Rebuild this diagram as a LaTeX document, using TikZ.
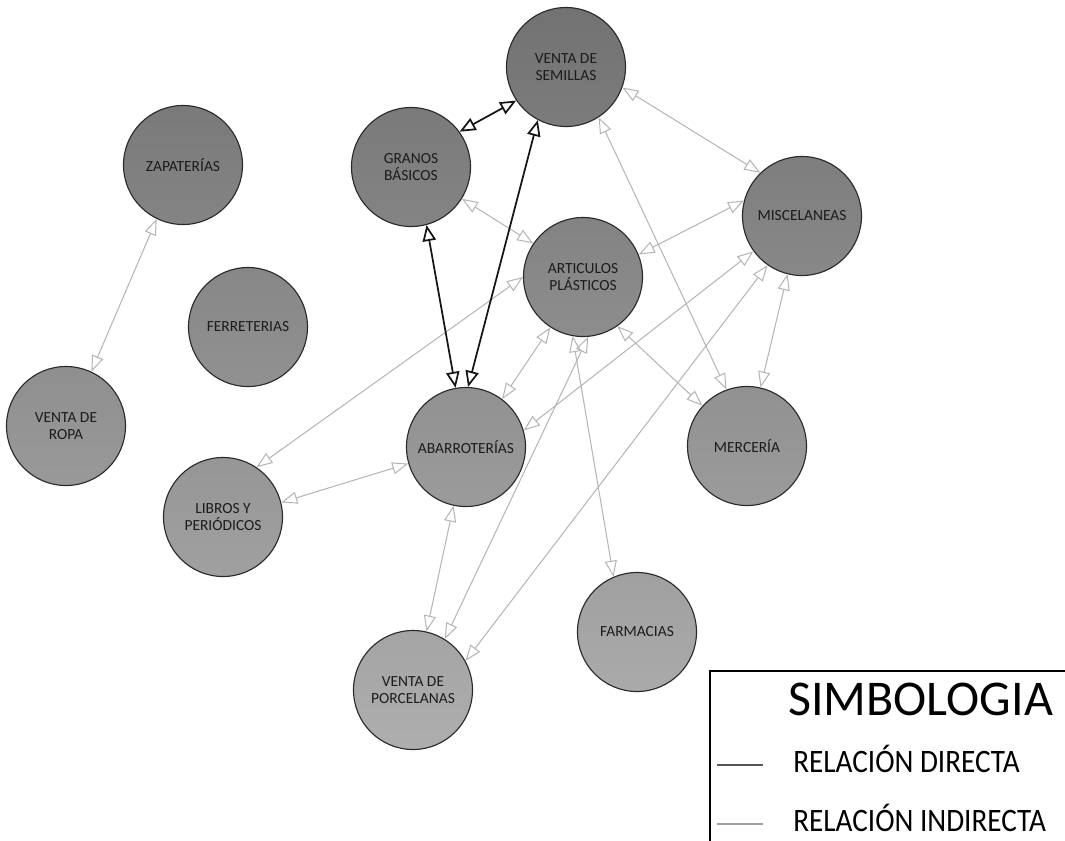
\documentclass[tikz,border=0pt]{standalone}
\usepackage{fontspec}
\setmainfont{Carlito}
\usetikzlibrary{arrows.meta}

\definecolor{ndline}{HTML}{2A2A2A}
\definecolor{ndtext}{HTML}{1C1C1C}
\definecolor{dirline}{HTML}{151515}
\definecolor{indline}{HTML}{B4B4B4}

\tikzset{
  nd/.style 2 args={circle, draw=ndline, line width=0.85pt, inner sep=0pt,
    minimum size=89.25pt, align=center, text=ndtext,
    font=\fontsize{11.6pt}{13pt}\selectfont,
    top color={rgb,255:red,#1;green,#1;blue,#1},
    bottom color={rgb,255:red,#2;green,#2;blue,#2}},
  dirrel/.style={draw=dirline, line width=1.3pt,
    {Triangle[open,length=12pt,width=10pt]}-{Triangle[open,length=12pt,width=10pt]}},
  indrel/.style={draw=indline, line width=0.75pt,
    {Triangle[open,length=12pt,width=9pt]}-{Triangle[open,length=12pt,width=9pt]}},
  legtext/.style={anchor=base west, inner sep=0pt, text=black}
}

\begin{document}
\begin{tikzpicture}[x=0.75pt, y=-0.75pt]
  \clip (0,0) rectangle (1065,840);
  \fill[white] (0,0) rectangle (1065,840);

  % businesses
  \node[nd={114}{124}] (sem) at (566,67)  {VENTA DE\\SEMILLAS};
  \node[nd={122}{132}] (gra) at (411,167) {GRANOS\\BÁSICOS};
  \node[nd={122}{132}] (zap) at (183,165) {ZAPATERÍAS};
  \node[nd={126}{136}] (mis) at (802,216) {MISCELANEAS};
  \node[nd={135}{145}] (fer) at (248,327) {FERRETERIAS};
  \node[nd={131}{141}] (art) at (583,277) {ARTICULOS\\PLÁSTICOS};
  \node[nd={143}{153}] (rop) at (66,426)  {VENTA DE\\ROPA};
  \node[nd={145}{155}] (aba) at (466,447) {ABARROTERÍAS};
  \node[nd={145}{155}] (mer) at (747,446) {MERCERÍA};
  \node[nd={150}{160}] (lib) at (223,517) {LIBROS Y\\PERIÓDICOS};
  \node[nd={160}{170}] (far) at (637,632) {FARMACIAS};
  \node[nd={164}{174}] (por) at (413,690) {VENTA DE\\PORCELANAS};

  % indirect relations
  \draw[indrel] (zap.-116) -- (rop.65);
  \draw[indrel] (gra.-32)  -- (art.146);
  \draw[indrel] (sem.-20)  -- (mis.134);
  \draw[indrel] (sem.-57)  -- (mer.110);
  \draw[indrel] (art.22)   -- (mis.165);
  \draw[indrel] (aba.16)   -- (mis.216);
  \draw[indrel] (por.29)   -- (mis.235);
  \draw[indrel] (mis.256)  -- (mer.77);
  \draw[indrel] (art.-55)  -- (mer.138);
  \draw[indrel] (art.180)  -- (lib.56);
  \draw[indrel] (art.237)  -- (aba.53);
  \draw[indrel] (art.-100) -- (far.113);
  \draw[indrel] (art.-85)  -- (por.58);
  \draw[indrel] (aba.-102) -- (por.77);
  \draw[indrel] (lib.14)   -- (aba.196);

  % direct relations
  \draw[dirrel] (gra.36)  -- (sem.214);
  \draw[dirrel] (aba.88)  -- (sem.242);
  \draw[dirrel] (gra.-75) -- (aba.100);

  % legend
  \draw[line width=2.2pt, black] (1080,671) -- (710,671) -- (710,850);
  \node[legtext, font=\fontsize{37.5pt}{40pt}\selectfont] (simb) at (788,715) {SIMBOLOGIA};
  \node[legtext, font=\fontsize{21.9pt}{24pt}\selectfont] (ldir) at (793,772) {\scalebox{1}[1.12]{RELACIÓN DIRECTA}};
  \node[legtext, font=\fontsize{21.9pt}{24pt}\selectfont] (lind) at (793,831) {\scalebox{1}[1.12]{RELACIÓN INDIRECTA}};
  \draw[draw={rgb,255:red,85;green,85;blue,85}, line width=1pt] (717,765) -- (763,765);
  \draw[draw={rgb,255:red,160;green,160;blue,160}, line width=1pt] (717,824) -- (763,824);
\end{tikzpicture}
\end{document}
